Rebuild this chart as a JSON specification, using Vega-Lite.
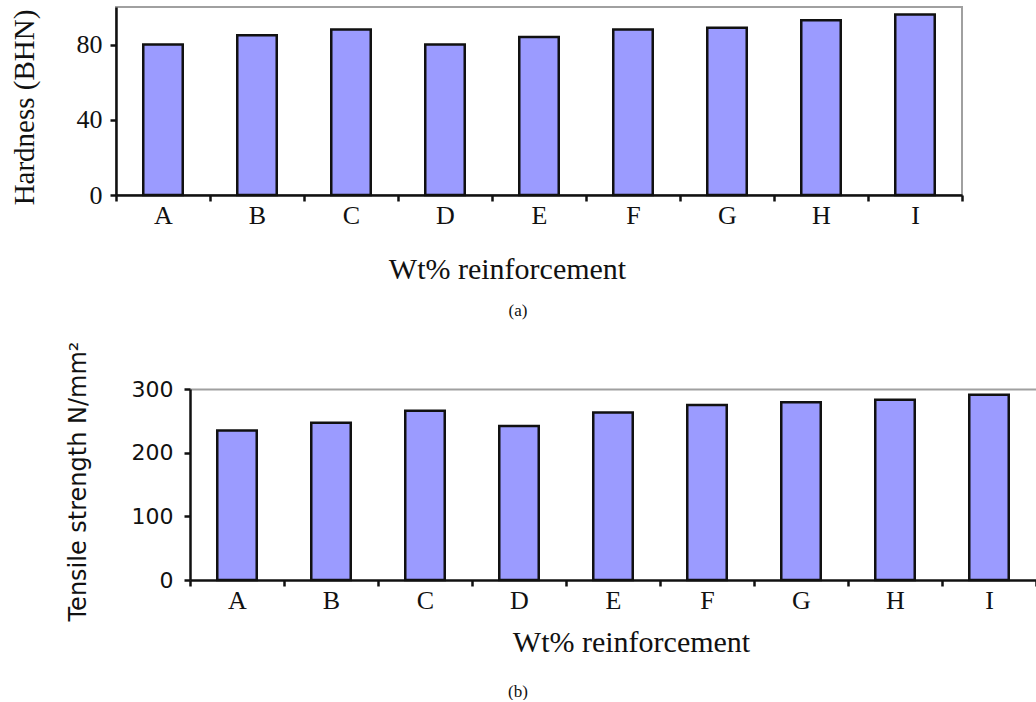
{
  "$schema": "https://vega.github.io/schema/vega-lite/v6.json",
  "background": "white",
  "padding": {"left": 8, "top": 6, "right": 0, "bottom": 0},
  "spacing": 21,
  "config": {
    "font": "Liberation Serif",
    "view": {"stroke": null},
    "style": {"guide-title": {"font": "Liberation Serif", "fontWeight": "normal"}, "guide-label": {"font": "Liberation Serif"}},
    "axis": {"grid": false, "labelFont": "Liberation Serif", "titleFont": "Liberation Serif", "labelColor": "#111", "titleColor": "#111", "titleFontWeight": "normal", "domainColor": "#111", "domainWidth": 2.5, "tickColor": "#111", "tickWidth": 2.5, "tickSize": 6},
    "title": {"color": "#111", "fontWeight": "normal", "font": "Liberation Serif"}
  },
  "datasets": {
    "hard": [
      {"sample": "A", "hardness": 80},
      {"sample": "B", "hardness": 85},
      {"sample": "C", "hardness": 88},
      {"sample": "D", "hardness": 80},
      {"sample": "E", "hardness": 84},
      {"sample": "F", "hardness": 88},
      {"sample": "G", "hardness": 89},
      {"sample": "H", "hardness": 93},
      {"sample": "I", "hardness": 96}
    ],
    "tens": [
      {"sample": "A", "tensile": 235},
      {"sample": "B", "tensile": 247},
      {"sample": "C", "tensile": 266},
      {"sample": "D", "tensile": 242},
      {"sample": "E", "tensile": 263},
      {"sample": "F", "tensile": 275},
      {"sample": "G", "tensile": 279},
      {"sample": "H", "tensile": 283},
      {"sample": "I", "tensile": 291}
    ]
  },
  "vconcat": [
    {
      "width": 846,
      "height": 188,
      "view": {"stroke": "#a0a0a0", "strokeWidth": 2},
      "title": {"text": "(a)", "orient": "bottom", "anchor": "middle", "fontSize": 17, "dx": -21, "offset": 19},
      "data": {"name": "hard"},
      "mark": {"type": "bar", "fill": "#9b9bff", "stroke": "#111", "strokeWidth": 2.5, "width": {"band": 0.42}},
      "encoding": {
        "x": {
          "field": "sample", "type": "nominal",
          "scale": {"paddingInner": 0, "paddingOuter": 0},
          "axis": {"labelAngle": 0, "tickBand": "extent", "labelFontSize": 26, "labelPadding": 1,
                   "title": "Wt% reinforcement", "titleFont": "Liberation Serif", "titleFontSize": 30, "titleX": 391, "titleY": 59, "titleBaseline": "top", "titleAlign": "center"}
        },
        "y": {
          "field": "hardness", "type": "quantitative",
          "scale": {"domain": [0, 100], "nice": false},
          "axis": {"values": [0, 40, 80], "labelFontSize": 26, "labelPadding": 8,
                   "title": "Hardness (BHN)", "titleFont": "Liberation Serif", "titleFontSize": 29, "titleX": -77, "titleY": 100, "titleBaseline": "bottom", "titleAlign": "center"}
        }
      }
    },
    {
      "width": 920,
      "height": 191,
      "title": {"text": "(b)", "orient": "bottom", "anchor": "middle", "fontSize": 17, "dx": -58, "offset": 27},
      "data": {"name": "tens"},
      "resolve": {"axis": {"x": "independent"}},
      "layer": [
        {
          "mark": {"type": "bar", "fill": "#9b9bff", "stroke": "#111", "strokeWidth": 2.5, "width": {"band": 0.42}},
          "encoding": {
            "x": {
              "field": "sample", "type": "nominal",
              "scale": {"paddingInner": 0, "paddingOuter": 0, "range": [74, 920]},
              "axis": {"labelAngle": 0, "tickBand": "extent", "labelFontSize": 26, "labelPadding": 1,
                       "title": "Wt% reinforcement", "titleFont": "Liberation Serif", "titleFontSize": 30, "titleX": 515, "titleY": 47, "titleBaseline": "top", "titleAlign": "center"}
            },
            "y": {
              "field": "tensile", "type": "quantitative",
              "scale": {"domain": [0, 300], "nice": false},
              "axis": {"values": [0, 100, 200, 300], "offset": -74, "labelFont": "DejaVu Sans", "labelFontSize": 22, "labelPadding": 11,
                       "title": "Tensile strength N/mm²", "titleFont": "DejaVu Sans", "titleFontSize": 24, "titleX": -100, "titleY": 92, "titleBaseline": "bottom", "titleAlign": "center"}
            }
          }
        },
        {
          "mark": {"type": "bar", "opacity": 0},
          "encoding": {
            "x": {
              "field": "sample", "type": "nominal",
              "axis": {"orient": "top", "labels": false, "ticks": false, "title": null, "domainColor": "#a0a0a0", "domainWidth": 2}
            },
            "y": {"field": "tensile", "type": "quantitative"}
          }
        }
      ]
    }
  ]
}
